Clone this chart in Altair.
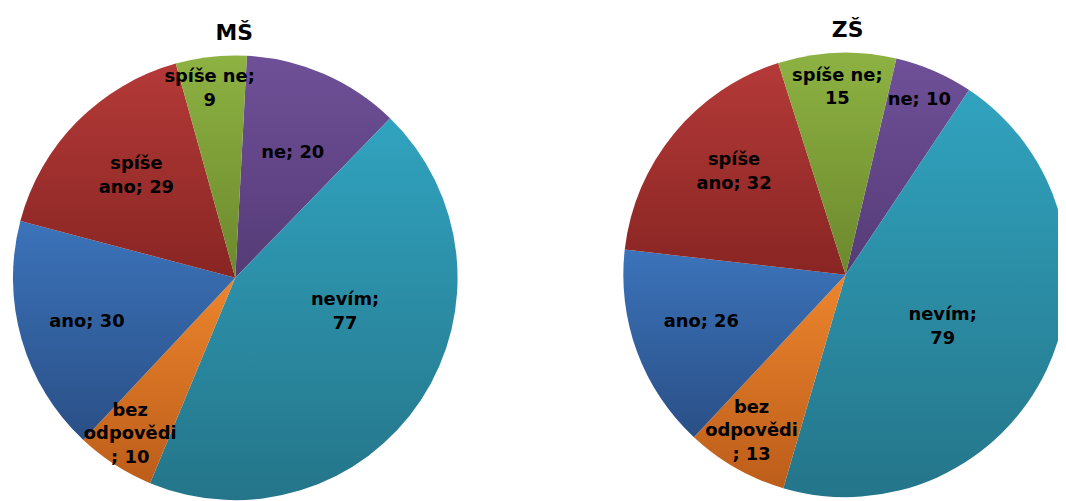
import math
import altair as alt
import pandas as pd

# ---------------- data ----------------
CATEGORIES = ["ne", "nevím", "bez odpovědi", "ano", "spíše ano", "spíše ne"]
MS_VALUES = [20, 77, 10, 30, 29, 9]
ZS_VALUES = [10, 79, 13, 26, 32, 15]
TITLES = ["MŠ", "ZŠ"]

# ---------------- layout / style ----------------
LABEL_TEMPLATES = {
    "ne": "ne; {v}",
    "nevím": "nevím;\n{v}",
    "bez odpovědi": "bez\nodpovědi\n; {v}",
    "ano": "ano; {v}",
    "spíše ano": "spíše\nano; {v}",
    "spíše ne": "spíše ne;\n{v}",
}
# label placement: (fraction along the slice angle, radius in px)
MS_LABEL_POS = {"ne": (0.53, 138), "nevím": (0.40, 116),
                "bez odpovědi": (0.55, 190), "ano": (0.49, 156),
                "spíše ano": (0.52, 143), "spíše ne": (0.42, 192)}
ZS_LABEL_POS = {"ne": (0.47, 191), "nevím": (0.52, 111),
                "bez odpovědi": (0.55, 184), "ano": (0.54, 153),
                "spíše ano": (0.55, 153), "spíše ne": (0.49, 189)}

GRADIENTS = {
    "ne": ("#6F5098", "#553B77"),
    "nevím": ("#31A3BF", "#247589"),
    "bez odpovědi": ("#EC852D", "#BC5D1A"),
    "ano": ("#3B73BA", "#2A4F86"),
    "spíše ano": ("#B43A38", "#882523"),
    "spíše ne": ("#8DB242", "#6C882D"),
}


def grad(c1, c2):
    return {
        "gradient": "linear",
        "x1": 0, "y1": 0, "x2": 0, "y2": 1,
        "stops": [{"offset": 0, "color": c1}, {"offset": 1, "color": c2}],
    }


color_enc = {
    "condition": [
        {"test": f"datum.kategorie === '{c}'", "value": grad(*GRADIENTS[c])}
        for c in CATEGORIES[:-1]
    ],
    "value": grad(*GRADIENTS[CATEGORIES[-1]]),
}

FONT = "DejaVu Sans"
R = 224
LH = 24


def pie(values, cx, cy, start_deg, label_pos):
    df = pd.DataFrame({
        "kategorie": CATEGORIES,
        "pocet": values,
        "poradi": list(range(len(CATEGORIES))),
    })
    df["label"] = [LABEL_TEMPLATES[c].format(v=v) for c, v in zip(CATEGORIES, values)]
    df["lf"] = [label_pos[c][0] for c in CATEGORIES]
    df["lr"] = [label_pos[c][1] for c in CATEGORIES]
    s = math.radians(start_deg)
    total = float(sum(values))
    tscale = alt.Scale(domain=[0, total], range=[s, s + 2 * math.pi],
                       zero=True, nice=False)
    base = alt.Chart(df).transform_stack(
        stack="pocet", as_=["t0", "t1"], groupby=[],
        sort=[alt.SortField("poradi", order="ascending")],
    ).transform_calculate(
        tmid="datum.t0 + datum.lf * (datum.t1 - datum.t0)",
        nlines="length(split(datum.label, '\\n'))",
    ).encode(
        x=alt.value(cx),
        y=alt.value(cy),
    )
    arcs = base.mark_arc(radius=R).encode(
        theta=alt.Theta("t0:Q", scale=tscale, stack=None),
        theta2="t1:Q",
        fill=color_enc,
    )
    layers = [arcs]
    for n in (1, 2, 3):
        layers.append(
            base.transform_filter(f"datum.nlines == {n}").mark_text(
                font=FONT, fontSize=18, fontWeight="bold", color="#000000",
                align="center", baseline="middle", lineBreak="\n",
                lineHeight=LH, dy=-(n - 1) * LH / 2,
            ).encode(
                theta=alt.Theta("tmid:Q", scale=tscale, stack=None),
                text="label:N",
                radius=alt.Radius("lr:Q", scale=None, stack=None),
            )
        )
    return alt.layer(*layers)


ms = pie(MS_VALUES, 229, 270, 3.0, MS_LABEL_POS)
zs = pie(ZS_VALUES, 844, 267, 13.2, ZS_LABEL_POS)

tdf = pd.DataFrame({"t": TITLES, "k": [0, 1]})
title_ms = alt.Chart(tdf).transform_filter("datum.k == 0").mark_text(
    font=FONT, fontSize=22, fontWeight="bold", color="#000000",
    align="center", baseline="middle",
).encode(text="t:N", x=alt.value(228), y=alt.value(23))
title_zs = alt.Chart(tdf).transform_filter("datum.k == 1").mark_text(
    font=FONT, fontSize=22, fontWeight="bold", color="#000000",
    align="center", baseline="middle",
).encode(text="t:N", x=alt.value(846), y=alt.value(20))

chart = alt.layer(ms, zs, title_ms, title_zs).resolve_scale(
    theta="independent"
).properties(
    width=1058, height=493, padding=0,
    autosize=alt.AutoSizeParams(type="none"),
    background="#ffffff",
).configure_view(strokeWidth=0)

chart.save("out.html", embed_options={"renderer": "svg", "actions": False})
